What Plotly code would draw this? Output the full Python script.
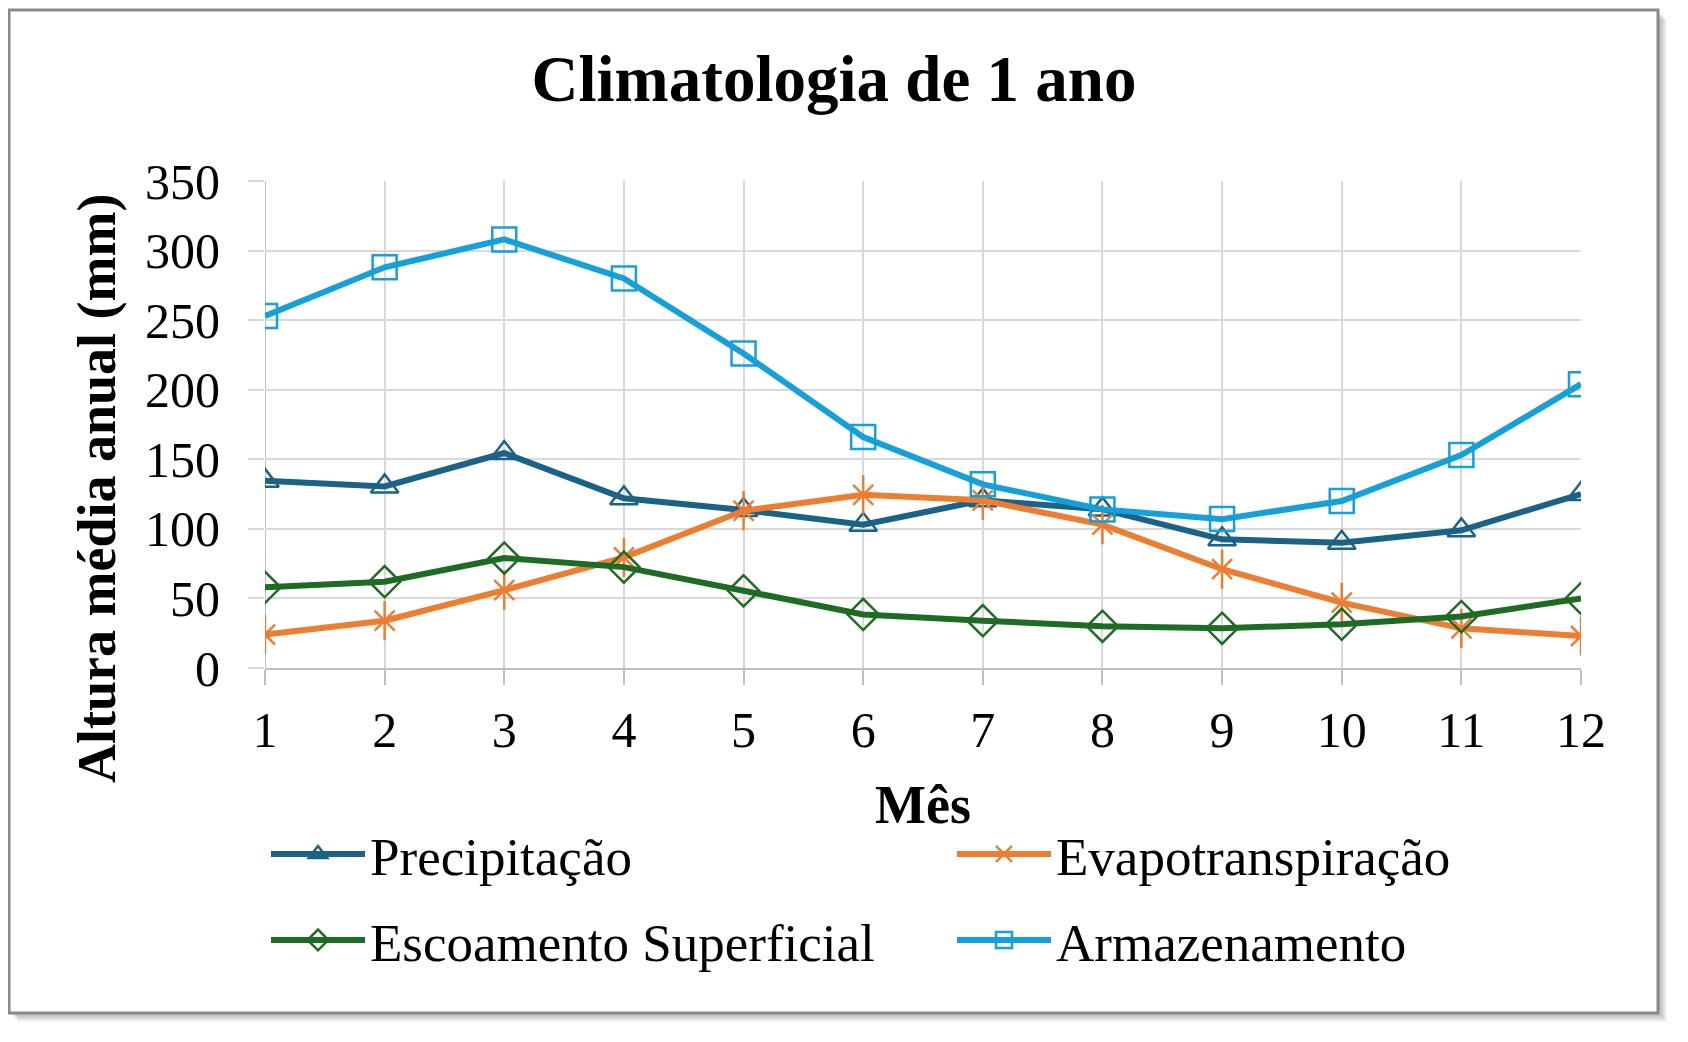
import plotly.graph_objects as go

# ---- data ----
meses = [1, 2, 3, 4, 5, 6, 7, 8, 9, 10, 11, 12]
precipitacao = [134.5, 130.5, 154.5, 122, 113.5, 103, 120.5, 114, 92.5, 90, 99, 125]
evapotranspiracao = [24, 34, 56, 79.5, 113, 124.5, 120.5, 103, 71, 47, 28.5, 23]
escoamento = [58, 62, 79, 72.5, 55.5, 38.5, 34, 30, 28.5, 31.5, 37, 50]
armazenamento = [253, 288, 308, 280, 226, 166, 132, 114, 107, 120, 153, 204]
y_ticks = [0, 50, 100, 150, 200, 250, 300, 350]

W, H = 1688, 1042
OFF = 8  # page body margin
# plot area in screen pixels
SL, SR, ST, SB = 265, 1581, 181, 668
L, R, T, B = SL - OFF, SR - OFF, ST - OFF, SB - OFF
FONT = "Liberation Serif"

def px(x):
    return (x - SL) / (SR - SL)

def py(y):
    return (SB - y) / (SB - ST)

C_PRE = "#1B6288"
C_EVA = "#ED7D31"
C_ESC = "#1E6B24"
C_ARM = "#14A0D8"
LW = 6

fig = go.Figure()
fig.add_trace(go.Scatter(
    x=meses, y=precipitacao, name="Precipitação", mode="lines+markers",
    line=dict(color=C_PRE, width=LW),
    marker=dict(symbol="triangle-up-open", size=24, color=C_PRE, line=dict(width=2.5, color=C_PRE)),
    legend="legend"))
fig.add_trace(go.Scatter(
    x=meses, y=evapotranspiracao, name="Evapotranspiração", mode="lines+markers",
    line=dict(color=C_EVA, width=LW),
    marker=dict(symbol="x-thin-open", size=20, color=C_EVA, line=dict(width=2.5, color=C_EVA)),
    legend="legend2"))
fig.add_trace(go.Scatter(
    x=meses, y=evapotranspiracao, name="Evapotranspiração", mode="markers",
    marker=dict(symbol="line-ns-open", size=28, color=C_EVA, line=dict(width=2.5, color=C_EVA)),
    showlegend=False, hoverinfo="skip"))
fig.add_trace(go.Scatter(
    x=meses, y=escoamento, name="Escoamento Superficial", mode="lines+markers",
    line=dict(color=C_ESC, width=LW),
    marker=dict(symbol="diamond-open", size=24, color=C_ESC, line=dict(width=2.5, color=C_ESC)),
    legend="legend3"))
fig.add_trace(go.Scatter(
    x=meses, y=armazenamento, name="Armazenamento", mode="lines+markers",
    line=dict(color=C_ARM, width=LW),
    marker=dict(symbol="square-open", size=24, color=C_ARM, line=dict(width=2.5, color=C_ARM)),
    legend="legend4"))

shapes = []
# shadow
for k in range(1, 10):
    shapes.append(dict(type="rect", xref="paper", yref="paper", layer="below",
                       x0=px(9 + k), x1=px(1658 + k), y0=py(1013 + k), y1=py(10 + k),
                       fillcolor="rgba(0,0,0,0.035)", line=dict(width=0)))
shapes.append(dict(type="rect", xref="paper", yref="paper", layer="below",
                   x0=px(9), x1=px(1658), y0=py(1013), y1=py(10),
                   fillcolor="white", line=dict(color="#8a8a8a", width=3)))

legend_common = dict(orientation="h", xanchor="left", yanchor="middle",
                     font=dict(family=FONT, size=53, color="black"),
                     bgcolor="rgba(0,0,0,0)", itemwidth=94,
                     itemclick=False, itemdoubleclick=False)

fig.update_layout(
    width=W, height=H,
    margin=dict(l=L, r=W - R, t=T, b=H - B),
    paper_bgcolor="white", plot_bgcolor="rgba(0,0,0,0)",
    title=dict(text="<b>Climatologia de 1 ano</b>", x=(834 - OFF) / W, xref="container", xanchor="center",
               y=1 - (78 - OFF) / H, yref="container", yanchor="middle",
               font=dict(family=FONT, size=65, color="black")),
    xaxis=dict(range=[1, 12], tickvals=meses, showgrid=True, gridcolor="#d9d9d9", gridwidth=2,
               showline=True, linecolor="#bfbfbf", linewidth=2,
               ticks="outside", ticklen=15, tickwidth=2, tickcolor="#bfbfbf",
               ticklabelstandoff=2,
               tickfont=dict(family=FONT, size=50, color="black"), zeroline=False,
               title=dict(text="<b>Mês</b>", font=dict(family=FONT, size=54, color="black"), standoff=28)),
    yaxis=dict(range=[0, 350], tickvals=y_ticks, showgrid=True, gridcolor="#d9d9d9", gridwidth=2,
               showline=False, zeroline=False,
               ticks="outside", ticklen=16, tickwidth=2, tickcolor="#d9d9d9",
               ticklabelstandoff=18,
               tickfont=dict(family=FONT, size=50, color="black")),
    legend=dict(x=px(266), y=py(854), **legend_common),
    legend2=dict(x=px(952), y=py(854), **legend_common),
    legend3=dict(x=px(266), y=py(940), **legend_common),
    legend4=dict(x=px(952), y=py(940), **legend_common),
    shapes=shapes,
    annotations=[dict(text="<b>Altura média anual (mm)</b>", xref="paper", yref="paper",
                      x=px(97), y=py(489), xanchor="center", yanchor="middle", textangle=-90,
                      showarrow=False, font=dict(family=FONT, size=54, color="black"))],
    showlegend=True,
)
# y-axis line at x=1 (darker than gridlines)
fig.add_shape(type="line", xref="x", yref="y", x0=1, x1=1, y0=0, y1=350,
              line=dict(color="#bfbfbf", width=2), layer="below")

fig.write_html("out.html")
